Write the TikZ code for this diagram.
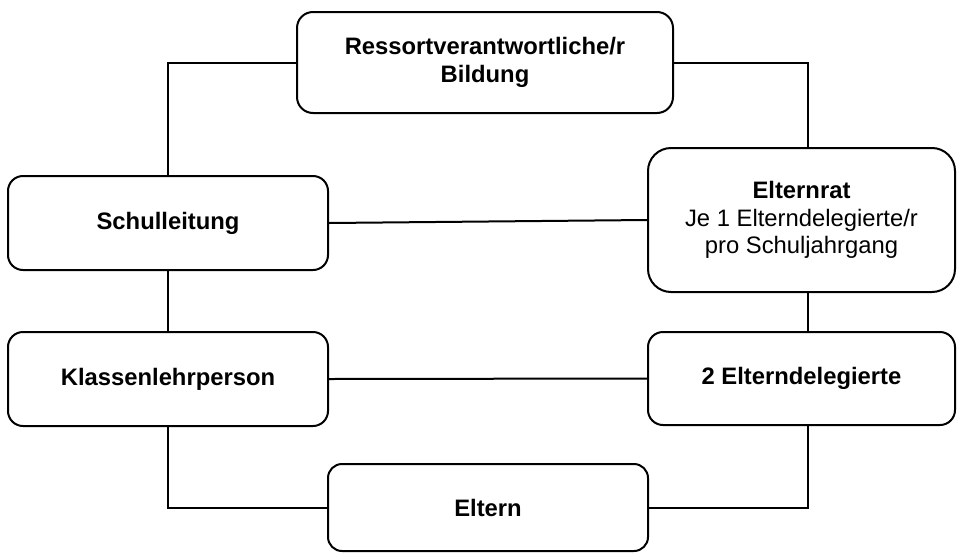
\documentclass[tikz,border=0pt]{standalone}
\usepackage{fontspec}
\setmainfont{Liberation Sans}
\begin{document}
\begin{tikzpicture}[x=1pt,y=-1pt,
  orgbox/.style={draw, line width=2pt, rounded corners=#1, inner sep=0pt,
    align=center, font=\fontsize{23.8}{27.5}\selectfont},
  link/.style={line width=2pt}]
\useasboundingbox (0,0) rectangle (957,552);
\node[orgbox=16pt, minimum width=376pt, minimum height=101pt, font=\fontsize{23.8}{28.5}\selectfont\bfseries] (rb) at (485,62.5) {Ressortverantwortliche/r\\Bildung};
\node[orgbox=15pt, minimum width=320pt, minimum height=94pt, font=\fontsize{23.8}{27.5}\selectfont\bfseries] (sl) at (168,223) {Schulleitung};
\node[orgbox=23pt, minimum width=307pt, minimum height=144pt] (er) at (801.5,220) {\textbf{Elternrat}\\Je 1 Elterndelegierte/r\\pro Schuljahrgang};
\node[orgbox=15pt, minimum width=320pt, minimum height=94pt, font=\fontsize{23.8}{27.5}\selectfont\bfseries] (kl) at (168,379) {Klassenlehrperson};
\node[orgbox=15pt, minimum width=307pt, minimum height=93pt, font=\fontsize{23.8}{27.5}\selectfont\bfseries] (ed) at (801.5,378.5) {2 Elterndelegierte};
\node[orgbox=14pt, minimum width=320pt, minimum height=87pt, font=\fontsize{23.8}{27.5}\selectfont\bfseries] (el) at (488,507.5) {Eltern};
\coordinate (rx) at (808,0);
\draw[link] (rb.west) -| (sl.north);
\draw[link] (rb.east) -| (rx |- er.north);
\draw[link] (sl.east) -- (er.west);
\draw[link] (sl.south) -- (kl.north);
\draw[link] (er.south -| rx) -- (ed.north -| rx);
\draw[link] (kl.east) -- (ed.west);
\draw[link] (kl.south) |- (el.west);
\draw[link] (ed.south -| rx) |- (el.east);
\end{tikzpicture}
\end{document}
